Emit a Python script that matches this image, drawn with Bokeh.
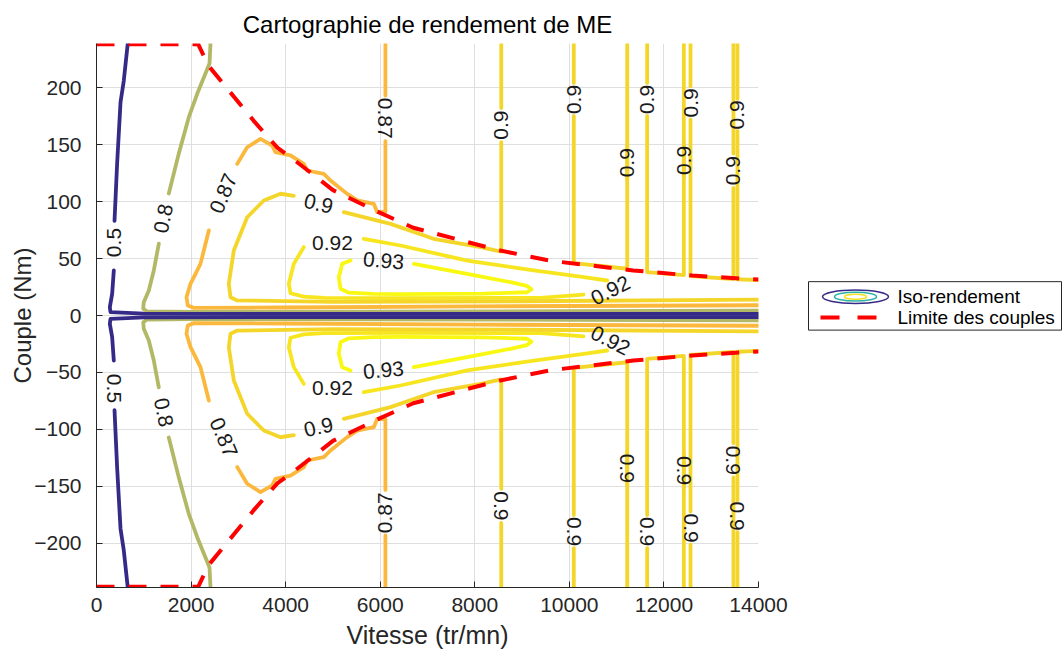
import numpy as np
from bokeh.plotting import figure
from bokeh.models import Range1d, FixedTicker
from bokeh.layouts import row
from bokeh.embed import file_html
from bokeh.resources import INLINE
from bokeh.core.properties import value

# ---------------- data ----------------
title_text = "Cartographie de rendement de ME"
x_label = "Vitesse (tr/mn)"
y_label = "Couple (Nm)"
x_ticks = [0, 2000, 4000, 6000, 8000, 10000, 12000, 14000]
y_ticks = [-200, -150, -100, -50, 0, 50, 100, 150, 200]

levels = [0.5, 0.8, 0.87, 0.9, 0.92, 0.93]
level_colors = ["#352a87", "#b3b866", "#fbb83c", "#f4d62b", "#f7e61f", "#f9f812"]

# torque limit (positive envelope, mirrored for braking)
limit_speed = [0, 2150, 2370, 3320, 3830, 4100, 4600, 5000, 6000, 6700, 7700, 8540, 9600, 11350, 12600, 14000]
limit_torque = [238, 238, 219, 171, 147, 139, 123, 110, 90, 77, 66, 57, 48, 39.5, 35, 31.5]

# iso-efficiency lines, positive-torque half (the map is symmetric)
iso_050_speed = [[662, 577, 508, 437, 381],
                 [366, 331, 282, 296, 1000, 4000, 9000, 14000]]
iso_050_torque = [[239, 206, 187, 134, 83],
                  [39.5, 19, 7.3, 3.0, 1.6, 1.4, 1.4, 1.5]]

iso_080_speed = [[2411, 2390, 2341, 2130, 1952, 1740, 1529],
                 [1318, 1212, 1106, 1000, 988, 1072, 2000, 6000, 10000, 14000]]
iso_080_torque = [[239, 221, 216, 194.5, 174, 142, 107],
                  [63, 39.5, 22, 11.7, 5.9, 3.5, 3.2, 3.4, 3.8, 4.2]]

iso_087_speed = [[6110, 6110],
                 [6110, 6110, 5936, 5865, 5513, 5302, 4949, 4807, 4456, 4384, 4103, 3785, 3716, 3468, 3187, 2976],
                 [2376, 2199, 1988, 1903, 1931, 2058, 4000, 8000, 14000]]
iso_087_torque = [[239, 193],
                  [153, 91, 90.6, 98, 101, 106.7, 118.4, 124.3, 127.2, 133, 140.4, 143.2, 149, 155, 147.6, 133],
                  [74.6, 45.3, 27.8, 16, 8.8, 6.7, 7.0, 8.0, 9.0]]

iso_090_speed = [[8560, 8560], [8560, 8560, 8121, 7127, 6218, 5230],
                 [4172, 3891, 3539, 3187, 2904, 2798, 2834, 2976, 5000, 9000, 14000],
                 [10094, 10094], [10094, 10094, 11224, 11224], [11224, 11224],
                 [11645, 11645], [11645, 11645, 12421, 12421], [12421, 12421],
                 [12562, 12562], [12562, 12562, 13470, 13470], [13470, 13470],
                 [13555, 13555], [13555, 13555, 14000]]
iso_090_torque = [[239, 182], [152, 56, 60, 67.3, 80.4, 90.6],
                  [105, 106.8, 100.9, 86.2, 57, 27.8, 16, 13.2, 12, 12.5, 14],
                  [239, 204], [175, 46, 41, 149], [119, 239],
                  [239, 204], [175, 38, 35.5, 151], [121, 239],
                  [239, 201], [172, 34.5, 32, 112], [142, 239],
                  [239, 190], [162, 31.8, 31]]

iso_092_speed = [[5653, 6429, 7840, 9248, 10306, 10800],
                 [10300, 9390, 6429, 4807, 4384, 4103, 4067, 4172, 4384]]
iso_092_torque = [[67.3, 61.4, 48.2, 39.5, 33.6, 30.7],
                  [18.4, 15.5, 15.2, 15.4, 16.5, 19.5, 27.8, 45.3, 60]]

iso_093_speed = [[6711, 7840, 8755, 9100, 9200, 9108, 8184, 6429, 5865, 5336, 5160, 5125, 5196, 5372]]
iso_093_torque = [[45.3, 36.6, 29.2, 26, 23, 20.4, 19.2, 18.8, 19, 20, 23.4, 33.6, 45.3, 48.2]]

# contour labels, positive-torque half
label_speed = [360, 1417, 2686, 4695, 4991, 6070, 10870, 6110, 8560, 10094, 11224, 11645, 12421, 12562, 13470, 13555]
label_torque = [64, 85, 107, 98, 64, 48, 22, 173, 167, 189.5, 134, 189.5, 136, 186.5, 127, 176]
label_text = ["0.5", "0.8", "0.87", "0.9", "0.92", "0.93", "0.92", "0.87",
              "0.9", "0.9", "0.9", "0.9", "0.9", "0.9", "0.9", "0.9"]

legend_labels = ["Iso-rendement", "Limite des couples"]

# ---------------- figure ----------------
FONT = "Liberation Sans"

p = figure(width=798, height=651, x_range=Range1d(0, 14000), y_range=Range1d(-238.6, 238.6),
           toolbar_location=None, output_backend="svg", title=title_text,
           min_border_left=96, min_border_right=40, min_border_top=43, min_border_bottom=64)
p.outline_line_color = None
p.background_fill_color = "white"
p.border_fill_color = "white"

p.title.align = "center"
p.title.text_font = FONT
p.title.text_font_size = "24px"
p.title.text_font_style = "normal"
p.title.text_color = "#000000"
p.title.standoff = 12

for ax in (p.xaxis, p.yaxis):
    ax.major_label_text_font = FONT
    ax.major_label_text_font_size = "21px"
    ax.major_label_text_color = "#262626"
    ax.axis_label_text_font = FONT
    ax.axis_label_text_font_style = "normal"
    ax.axis_label_text_color = "#262626"
    ax.axis_line_color = "#262626"
    ax.major_tick_line_color = "#262626"
    ax.major_tick_in = 6
    ax.major_tick_out = 0
    ax.minor_tick_line_color = None

p.xaxis.ticker = FixedTicker(ticks=x_ticks)
p.yaxis.ticker = FixedTicker(ticks=y_ticks)
p.xaxis.axis_label = x_label
p.yaxis.axis_label = y_label
p.xaxis.axis_label_text_font_size = "25px"
p.yaxis.axis_label_text_font_size = "24px"
p.xaxis.major_label_standoff = 10
p.xaxis.axis_label_standoff = 6
p.yaxis.major_label_standoff = 15
p.yaxis.axis_label_standoff = -5

p.xgrid.grid_line_color = "#dfdfdf"
p.ygrid.grid_line_color = "#dfdfdf"

iso_speed = [iso_050_speed, iso_080_speed, iso_087_speed, iso_090_speed, iso_092_speed, iso_093_speed]
iso_torque = [iso_050_torque, iso_080_torque, iso_087_torque, iso_090_torque, iso_092_torque, iso_093_torque]

xs, ys, cols = [], [], []
for k in reversed(range(len(levels))):
    for sp, tq in zip(iso_speed[k], iso_torque[k]):
        xs.append(sp)
        ys.append(tq)
        cols.append(level_colors[k])
        xs.append(sp)
        ys.append([-t for t in tq])
        cols.append(level_colors[k])

p.multi_line(xs=xs, ys=ys, line_color=cols, line_width=3.8, line_cap="round", line_join="round")

# labels
label_angle_deg = [90, 79, 67, -13, 0, -5, 27, -90, 90, 90, 90, 90, 90, 90, 90, 90]
lx = label_speed + label_speed
ly = label_torque + [-t for t in label_torque]
lt = label_text + label_text
la = list(np.deg2rad(label_angle_deg)) + list(-np.deg2rad(label_angle_deg))
p.text(x=lx, y=ly, text=lt, angle=la, text_align="center", text_baseline="middle",
       text_font=value(FONT), text_font_size="21px", text_color="#1a1a1a")

# torque limits
p.line(limit_speed, limit_torque, line_color="#ff0000", line_width=4, line_dash="18 14")
p.line(limit_speed, [-t for t in limit_torque], line_color="#ff0000", line_width=4, line_dash="18 14")

# ---------------- legend panel ----------------
leg = figure(width=264, height=651, x_range=Range1d(798, 1062), y_range=Range1d(651, 0),
             toolbar_location=None, output_backend="svg", min_border=0)
leg.outline_line_color = None
leg.axis.visible = False
leg.grid.visible = False
leg.background_fill_color = "white"
leg.border_fill_color = "white"

leg.quad(left=808, right=1061, top=285, bottom=343, fill_color="white",
         line_color="#262626", line_width=1)
leg.ellipse(x=[855, 855, 855], y=[303, 303, 303], width=[66, 42, 22], height=[16, 10.5, 6],
            fill_alpha=0, line_color=["#352a87", "#2bb3a3", "#f2e32a"], line_width=1.5)
leg.line(x=[820, 877], y=[328, 328], line_color="#ff0000", line_width=4, line_dash="19 18")
leg.text(x=[897, 897], y=[303, 328], text=legend_labels, text_baseline="middle", text_align="left",
         text_font=value(FONT), text_font_size="19px", text_color="#000000")

layout = row(p, leg)
open("out.html", "w").write(file_html(layout, INLINE))
